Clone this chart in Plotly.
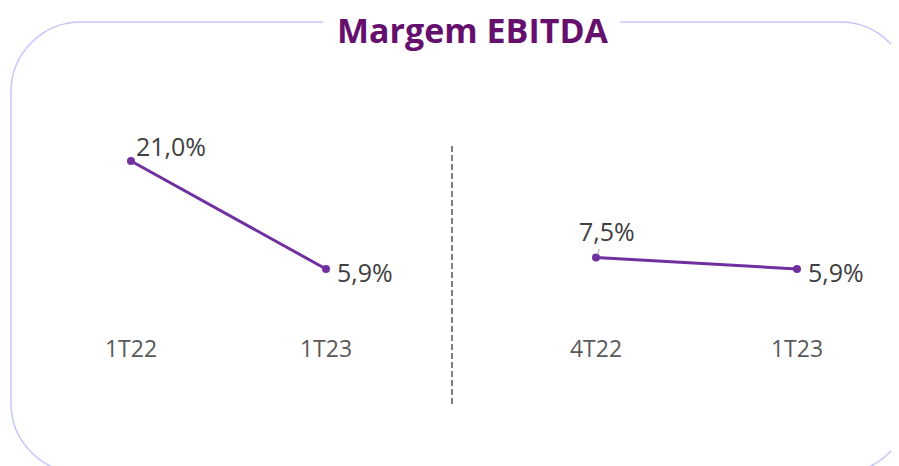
import plotly.graph_objects as go
from plotly.subplots import make_subplots

# dados
periodos_anual = ["1T22", "1T23"]
margem_anual = [21.0, 5.9]
periodos_trim = ["4T22", "1T23"]
margem_trim = [7.5, 5.9]

W, H = 899, 466
OFF = 8  # margem padrão do <body> na página
ROXO = "#7030a0"


def px(x):
    return (x - OFF) / W


def py(y):
    return 1 - (y - OFF) / H


def fmt(v):
    return f"{v:.1f}".replace(".", ",") + "%"


fig = make_subplots(rows=1, cols=2, shared_yaxes=False)

fig.add_trace(
    go.Scatter(
        x=periodos_anual, y=margem_anual, mode="lines+markers",
        line=dict(color=ROXO, width=3), marker=dict(color=ROXO, size=8),
        showlegend=False, hoverinfo="skip",
    ),
    row=1, col=1,
)
fig.add_trace(
    go.Scatter(
        x=periodos_trim, y=margem_trim, mode="lines+markers",
        line=dict(color=ROXO, width=3), marker=dict(color=ROXO, size=8),
        showlegend=False, hoverinfo="skip",
    ),
    row=1, col=2,
)

label_font = dict(family="Open Sans", size=25, color="#404040")

anns = [
    dict(x=periodos_anual[0], y=margem_anual[0], xref="x", yref="y", text=fmt(margem_anual[0]),
         showarrow=False, xanchor="left", yanchor="middle", xshift=3, yshift=15),
    dict(x=periodos_anual[1], y=margem_anual[1], xref="x", yref="y", text=fmt(margem_anual[1]),
         showarrow=False, xanchor="left", yanchor="middle", xshift=9, yshift=-3),
    dict(x=periodos_trim[0], y=margem_trim[0], xref="x2", yref="y2", text=fmt(margem_trim[0]),
         showarrow=True, arrowhead=0, arrowwidth=1, arrowcolor="#a6a6a6",
         ax=11, ay=-27, standoff=3),
    dict(x=periodos_trim[1], y=margem_trim[1], xref="x2", yref="y2", text=fmt(margem_trim[1]),
         showarrow=False, xanchor="left", yanchor="middle", xshift=9, yshift=-3),
]
for a in anns:
    a["font"] = label_font

anns.append(
    dict(x=px(473), y=py(30), xref="paper", yref="paper", text="<b>Margem EBITDA</b>",
         showarrow=False, xanchor="center", yanchor="middle",
         font=dict(family="Open Sans", size=34, color="#66106e"))
)

# moldura arredondada, aberta no topo para o título
k = 0.5523 * 70
pts = [
    ("M", [(323, 22)]),
    ("L", [(81, 22)]),
    ("C", [(81 - k, 22), (11, 92 - k), (11, 92)]),
    ("L", [(11, 403)]),
    ("C", [(11, 403 + k), (81 - k, 473), (81, 473)]),
    ("L", [(840, 473)]),
    ("C", [(840 + k, 473), (910, 403 + k), (910, 403)]),
    ("L", [(910, 92)]),
    ("C", [(910, 92 - k), (840 + k, 22), (840, 22)]),
    ("L", [(620, 22)]),
]
path = " ".join(cmd + " " + " ".join(f"{px(x):.5f},{py(y):.5f}" for x, y in p) for cmd, p in pts)

shapes = [
    dict(type="path", path=path, xref="paper", yref="paper",
         line=dict(color="#c6c6fb", width=1.5)),
    dict(type="line", xref="paper", yref="paper", x0=px(452), x1=px(452), y0=py(146), y1=py(404),
         line=dict(color="#7f7f7f", width=2, dash="6px,3px")),
]

ydom = [py(330), py(110)]
yr = [-2.63, 28.13]

fig.update_layout(
    width=W, height=H,
    margin=dict(l=0, r=0, t=0, b=0),
    paper_bgcolor="white", plot_bgcolor="white",
    annotations=anns, shapes=shapes,
    xaxis=dict(domain=[px(33.5), px(423.5)], range=[-0.5, 1.5]),
    xaxis2=dict(domain=[px(495.5), px(897.5)], range=[-0.5, 1.5]),
    yaxis=dict(domain=ydom, range=yr, visible=False),
    yaxis2=dict(domain=ydom, range=yr, visible=False),
)
fig.update_xaxes(
    type="category", showgrid=False, zeroline=False, showline=False, ticks="",
    tickfont=dict(family="Open Sans", size=23, color="#595959"), ticklabelstandoff=3,
)

fig.write_html("out.html")
